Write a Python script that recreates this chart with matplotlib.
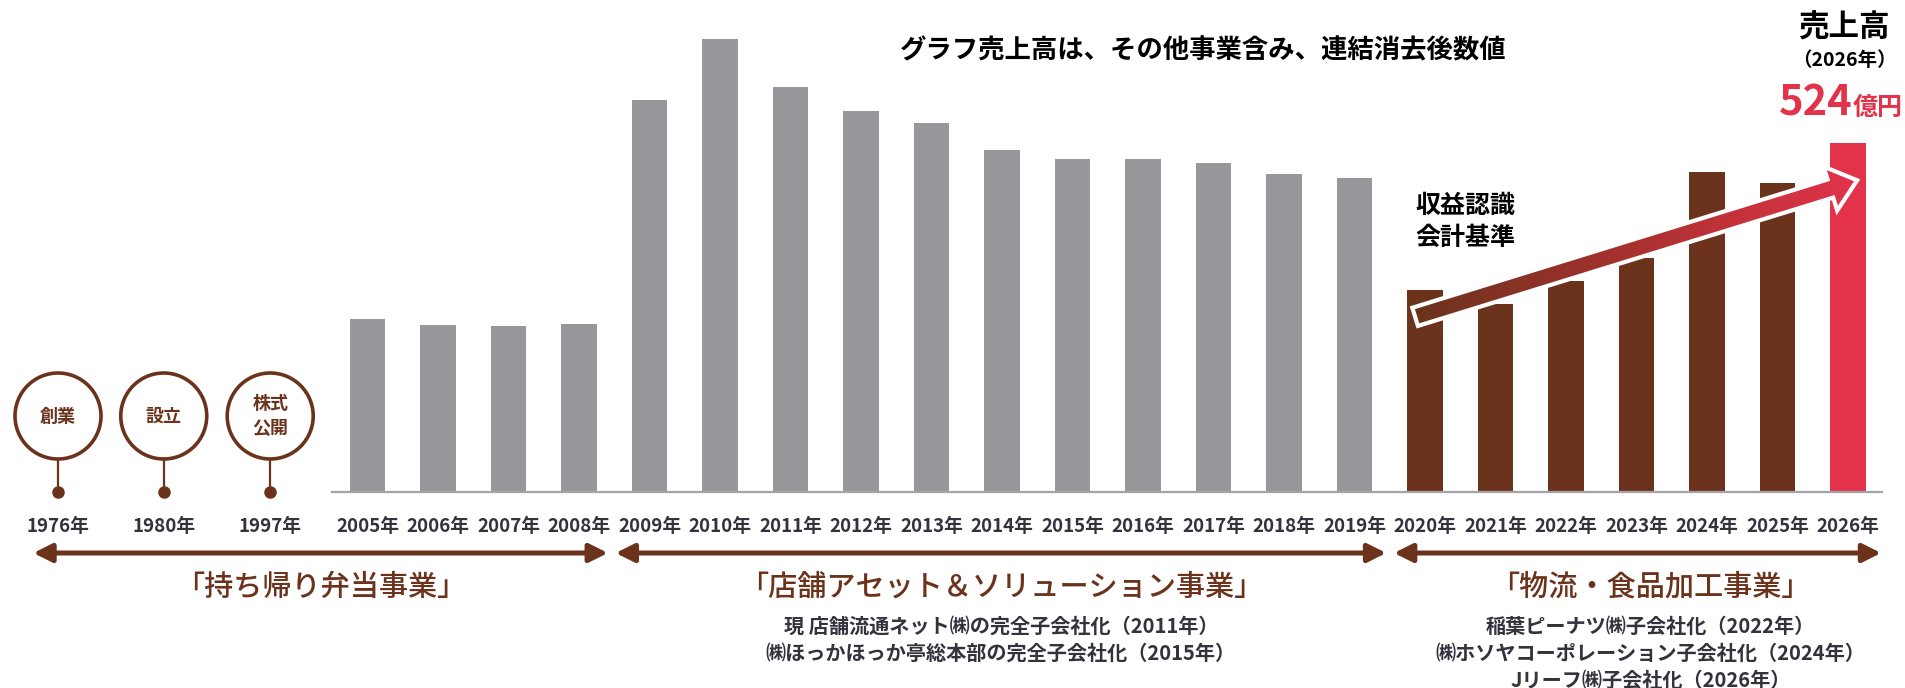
import numpy as np
import matplotlib.pyplot as plt
from matplotlib.patches import Ellipse, Polygon, FancyArrowPatch
from matplotlib.colors import LinearSegmentedColormap
import matplotlib.transforms as mtransforms

plt.rcParams['font.family'] = ['Noto Sans CJK JP', 'DejaVu Sans']

# 売上高（億円）
years = ['2005年', '2006年', '2007年', '2008年', '2009年', '2010年', '2011年',
         '2012年', '2013年', '2014年', '2015年', '2016年', '2017年', '2018年',
         '2019年', '2020年', '2021年', '2022年', '2023年', '2024年', '2025年',
         '2026年']
sales = [260, 251, 249, 252, 588, 680, 608, 572, 554, 513, 500, 500, 494, 477,
         471, 303, 282, 317, 351, 480, 464, 524]

milestone_years = ['1976年', '1980年', '1997年']
milestone_labels = ['創業', '設立', '株式\n公開']

segments = ['「持ち帰り弁当事業」', '「店舗アセット＆ソリューション事業」', '「物流・食品加工事業」']
segment_notes = [
    [],
    ['現 店舗流通ネット㈱の完全子会社化（2011年）',
     '㈱ほっかほっか亭総本部の完全子会社化（2015年）'],
    ['稲葉ピーナツ㈱子会社化（2022年）',
     '㈱ホソヤコーポレーション子会社化（2024年）',
     'Jリーフ㈱子会社化（2026年）'],
]

GRAY = '#98979c'
BROWN = '#6b331c'
RED = '#e3334a'
TEXT = '#33333d'

W, H = 1906, 688
fig = plt.figure(figsize=(W / 100, H / 100), dpi=100)
ax = fig.add_axes([0, 0, 1, 1])
ax.axis('off')

# layout: bar i centre at 367.5 px, 70.5 px apart; baseline 492 px from top
step_px = 70.5
unit = 524 / 349  # 億円 per pixel
ax.set_xlim(-367.5 / step_px, (W - 367.5) / step_px)
ax.set_ylim(-(H - 492) * unit, 492 * unit)

def fy(py):
    return 1 - py / H

blend = mtransforms.blended_transform_factory(ax.transData, fig.transFigure)

x = np.arange(len(years))
colors = [GRAY] * 15 + [BROWN] * 6 + [RED]
ax.bar(x, sales, width=0.5, color=colors, zorder=2)
ax.plot([-0.5, len(years) - 0.52], [0, 0], color='#a3a3a8', lw=1.6, zorder=3)

for i, y in enumerate(years):
    ax.text(i, fy(527), y, transform=blend, ha='center', va='center',
            fontsize=13.5, fontweight='bold', color=TEXT)

# milestones
milestone_x = [-4.39, -2.89, -1.38]
r_px = 43
cy = 76 * unit
for mx, yl, lab in zip(milestone_x, milestone_years, milestone_labels):
    ax.add_patch(Ellipse((mx, cy), 2 * r_px / step_px, 2 * r_px * unit,
                         fill=False, ec=BROWN, lw=2.6, zorder=3))
    ax.plot([mx, mx], [cy - r_px * unit, 0], color=BROWN, lw=1.6, zorder=3)
    ax.plot(mx, 0, 'o', color=BROWN, ms=8, zorder=4)
    ax.text(mx, cy, lab, ha='center', va='center', fontsize=13,
            fontweight='bold', color=BROWN, linespacing=1.4, zorder=4)
    ax.text(mx, fy(527), yl, transform=blend, ha='center', va='center',
            fontsize=13.5, fontweight='bold', color=TEXT)

# segment arrows
spans = [(milestone_x[0] - 0.35, 3.41), (3.52, 14.45), (14.56, len(years) - 0.53)]
label_shift = [0, 0, 0.18]
for (a, b), seg, notes, sh in zip(spans, segments, segment_notes, label_shift):
    arr = FancyArrowPatch((a, fy(553)), (b, fy(553)), transform=blend,
                          arrowstyle='<|-|>,head_length=11,head_width=5.5',
                          mutation_scale=1, lw=3.6, color=BROWN,
                          shrinkA=0, shrinkB=0)
    ax.add_patch(arr)
    cx = (a + b) / 2 + sh
    ax.text(cx, fy(587), seg, transform=blend, ha='center', va='center',
            fontsize=21, color=BROWN, fontweight='medium')
    for k, note in enumerate(notes):
        ax.text(cx, fy(626 + 27 * k), note, transform=blend, ha='center',
                va='center', fontsize=14.5, fontweight='bold', color=TEXT)

# gradient growth arrow
p0 = ax.transData.transform((14.86, 263))
p1 = ax.transData.transform((21.13, 468))
u = (p1 - p0) / np.hypot(*(p1 - p0))
n = np.array([-u[1], u[0]])
hw, hh, hl = 9.5, 23, 28
b = p1 - u * hl
pts = np.array([p0 + n * hw, b + n * hw, b + n * hh, p1,
                b - n * hh, b - n * hw, p0 - n * hw])
pts = ax.transData.inverted().transform(pts)
poly = Polygon(pts, closed=True, fc='none', ec='none', zorder=5)
ax.add_patch(poly)
cmap = LinearSegmentedColormap.from_list('g', [BROWN, '#a9312f', RED])
grad = np.linspace(0, 1, 256).reshape(1, -1)
im = ax.imshow(grad, cmap=cmap, aspect='auto', zorder=5,
               extent=(pts[:, 0].min(), pts[:, 0].max(),
                       pts[:, 1].min(), pts[:, 1].max()))
im.set_clip_path(poly)
ax.add_patch(Polygon(pts, closed=True, fc='none', ec='white', lw=3,
                     joinstyle='miter', zorder=6))
ax.set_xlim(-367.5 / step_px, (W - 367.5) / step_px)
ax.set_ylim(-(H - 492) * unit, 492 * unit)

# texts
fig.text(1203 / W, fy(51), 'グラフ売上高は、その他事業含み、連結消去後数値',
         ha='center', va='center', fontsize=19, fontweight='bold', color='black')
fig.text(1465 / W, fy(206), '収益認識', ha='center', va='center',
         fontsize=18, fontweight='bold', color='black')
fig.text(1465 / W, fy(238), '会計基準', ha='center', va='center',
         fontsize=18, fontweight='bold', color='black')
fig.text(1844 / W, fy(28), '売上高', ha='center', va='center',
         fontsize=22, fontweight='bold', color='black')
fig.text(1844 / W, fy(60), '（2026年）', ha='center', va='center',
         fontsize=14, fontweight='bold', color='black')
fig.text(1853 / W, fy(115), str(sales[-1]), ha='right', va='baseline',
         fontsize=30, fontweight='bold', color=RED)
fig.text(1853 / W, fy(115), '億円', ha='left', va='baseline',
         fontsize=18, fontweight='bold', color=RED)

fig.savefig('out.png', dpi=100)
